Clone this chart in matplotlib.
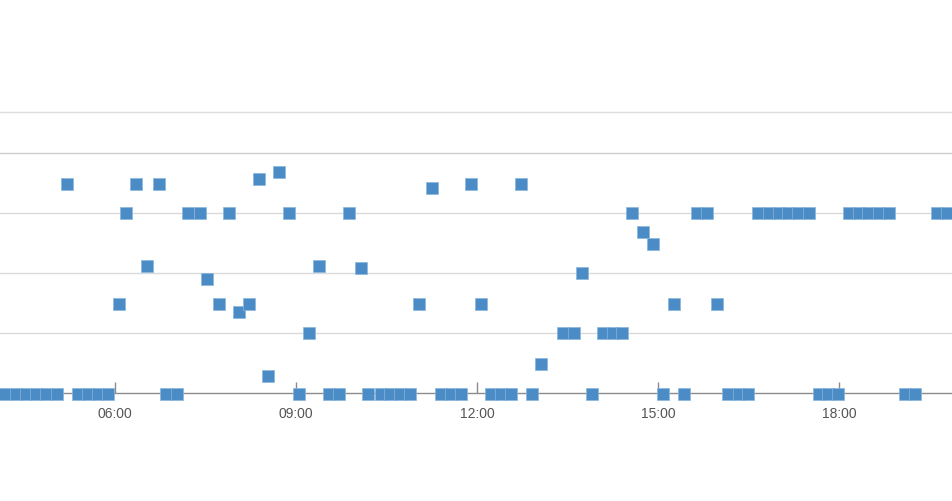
import matplotlib
matplotlib.use("Agg")
import matplotlib.pyplot as plt
import numpy as np

# time of each reading (HH:MM) and its value
times = [
    "04:11", "04:22", "04:31", "04:41", "04:51", "05:02", "05:12", "05:23", "05:33", "05:43",
    "05:53", "06:04", "06:11", "06:21", "06:32", "06:44", "06:51", "07:02", "07:13", "07:24",
    "07:31", "07:43", "07:53", "08:03", "08:13", "08:23", "08:32", "08:43", "08:53", "09:03",
    "09:13", "09:23", "09:33", "09:43", "09:53", "10:05", "10:12", "10:24", "10:33", "10:43",
    "10:53", "11:02", "11:15", "11:24", "11:34", "11:44", "11:54", "12:04", "12:14", "12:24",
    "12:34", "12:44", "12:55", "13:04", "13:25", "13:36", "13:44", "13:54", "14:05", "14:15",
    "14:24", "14:34", "14:45", "14:55", "15:05", "15:16", "15:26", "15:39", "15:49", "15:59",
    "16:10", "16:20", "16:29", "16:39", "16:50", "17:00", "17:09", "17:19", "17:30", "17:40",
    "17:49", "17:59", "18:10", "18:20", "18:29", "18:40", "18:50", "19:06", "19:16", "19:37",
    "19:47",
]
values = [
    -0.02, -0.02, -0.02, -0.02, -0.02, -0.02, 3.48, -0.02, -0.02, -0.02,
    -0.02, 1.48, 3.0, 3.48, 2.12, 3.48, -0.02, -0.02, 3.0, 3.0,
    1.9, 1.48, 3.0, 1.35, 1.48, 3.57, 0.28, 3.68, 3.0, -0.02,
    1.0, 2.12, -0.02, -0.02, 3.0, 2.08, -0.02, -0.02, -0.02, -0.02,
    -0.02, 1.48, 3.41, -0.02, -0.02, -0.02, 3.48, 1.48, -0.02, -0.02,
    -0.02, 3.48, -0.02, 0.48, 1.0, 1.0, 2.0, -0.02, 1.0, 1.0,
    1.0, 3.0, 2.68, 2.48, -0.02, 1.48, -0.02, 3.0, 3.0, 1.48,
    -0.02, -0.02, -0.02, 3.0, 3.0, 3.0, 3.0, 3.0, 3.0, -0.02,
    -0.02, -0.02, 3.0, 3.0, 3.0, 3.0, 3.0, -0.02, -0.02, 3.0,
    3.0,
]
tick_labels = ["06:00", "09:00", "12:00", "15:00", "18:00"]
grid_levels = [1, 2, 3, 4]


def to_min(s):
    h, m = s.split(":")
    return int(h) * 60 + int(m)


x = np.array([to_min(t) for t in times], dtype=float)
y = np.array(values, dtype=float)
tick_pos = [to_min(t) for t in tick_labels]

W, H = 953, 501
fig = plt.figure(figsize=(W / 100, H / 100), dpi=100)
ax = fig.add_axes([0, (H - 393) / H, 1, (393 - 112) / H])

ax.set_xlim(245.6, 1193.3)
ax.set_ylim(0, (393 - 112) / 60)

for g in grid_levels:
    ax.axhline(g, color="#dadada" if g < 4 else "#cfcfcf", lw=1, zorder=1)
ax.axhline((393 - 112) / 60, color="#dedede", lw=1, zorder=1, clip_on=False)

for s in ["top", "right", "left"]:
    ax.spines[s].set_visible(False)
ax.spines["bottom"].set_color("#8c8c8c")
ax.spines["bottom"].set_linewidth(1)

ax.set_yticks([])
ax.set_xticks(tick_pos)
ax.set_xticklabels(tick_labels, fontfamily="Liberation Sans", fontsize=10, color="#555555")
ax.tick_params(axis="x", direction="in", length=8, width=1, color="#8c8c8c", pad=10)

ax.scatter(x, y, marker="s", s=64, color="#4b8bc6", edgecolors="#8ab6de",
           linewidths=0.5, zorder=3, clip_on=False)

fig.savefig("out.png", dpi=100)
